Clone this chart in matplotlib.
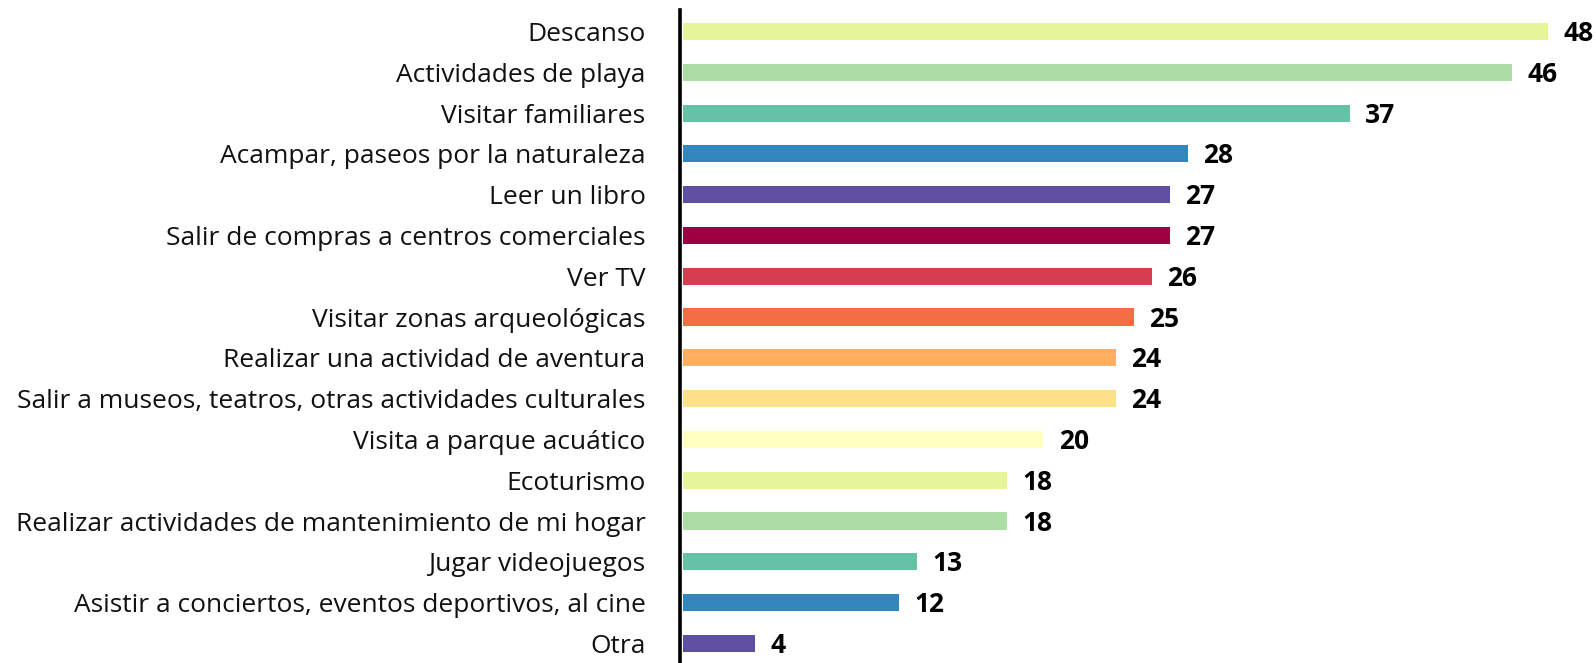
import matplotlib
matplotlib.use("Agg")
import matplotlib.pyplot as plt

categories = [
    "Descanso", "Actividades de playa", "Visitar familiares",
    "Acampar, paseos por la naturaleza", "Leer un libro",
    "Salir de compras a centros comerciales", "Ver TV",
    "Visitar zonas arqueológicas", "Realizar una actividad de aventura",
    "Salir a museos, teatros, otras actividades culturales",
    "Visita a parque acuático", "Ecoturismo",
    "Realizar actividades de mantenimiento de mi hogar",
    "Jugar videojuegos", "Asistir a conciertos, eventos deportivos, al cine",
    "Otra",
]
values = [48, 46, 37, 28, 27, 27, 26, 25, 24, 24, 20, 18, 18, 13, 12, 4]
colors = ["#e6f598", "#abdda4", "#66c2a5", "#3288bd", "#5e4fa2", "#9e0142",
          "#d53e4f", "#f46d43", "#fdae61", "#fee08b", "#ffffbf", "#e6f598",
          "#abdda4", "#66c2a5", "#3288bd", "#5e4fa2"]

plt.rcParams['font.family'] = ['Open Sans', 'DejaVu Sans']

W, H = 1596, 663
fig = plt.figure(figsize=(W / 100, H / 100), dpi=100)
x0, x1 = 683, 1548
ax = fig.add_axes([x0 / W, 0, (x1 - x0) / W, 653 / H])

pos = list(range(len(categories)))
ax.barh(pos, values, height=0.42, color=colors)
ax.set_xlim(0, 48)
ax.set_ylim(15.48, -0.527)
ax.set_yticks(pos)
ax.set_yticklabels(categories)
ax.tick_params(axis='y', length=0, pad=25, labelsize=19, labelcolor="#111111")
ax.set_xticks([])
for s in ["top", "right", "bottom"]:
    ax.spines[s].set_visible(False)
ax.spines["left"].set_linewidth(2.6)
ax.spines["left"].set_position(("outward", 2))

for p, v in zip(pos, values):
    ax.annotate(str(v), (v, p), xytext=(11, -1.5), textcoords="offset points",
                va="center", ha="left", fontsize=19, fontweight="bold",
                color="#000000", annotation_clip=False)

fig.savefig("out.png", dpi=100)
